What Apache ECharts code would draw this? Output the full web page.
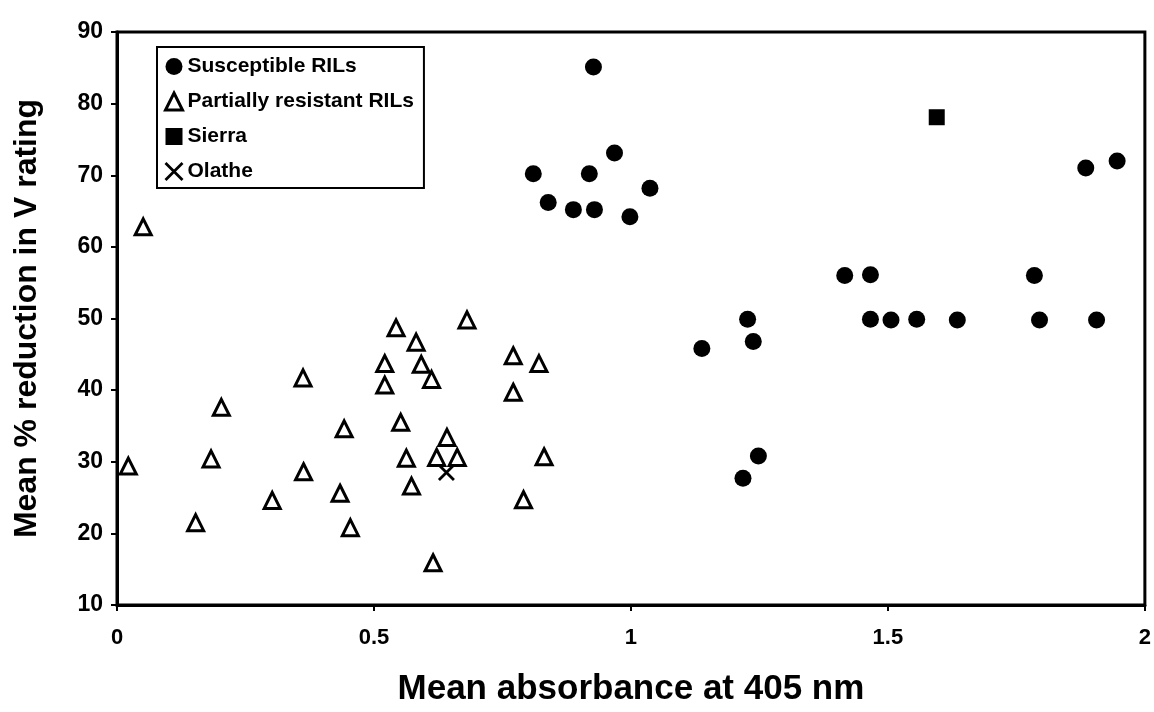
<!DOCTYPE html>
<html>
<head>
<meta charset="utf-8">
<script src="https://cdn.jsdelivr.net/npm/echarts@6/dist/echarts.min.js"></script>
<style>
html,body{margin:0;padding:0;background:#fff;}
#chart{width:1154px;height:712px;}
</style>
</head>
<body>
<div id="chart"></div>
<script>
// Susceptible RILs
const suscX = [0.927, 0.968, 0.810, 0.919, 1.037, 0.839, 0.888, 0.929, 0.998, 1.885, 1.946, 1.416, 1.466, 1.785, 1.227, 1.238, 1.138, 1.248, 1.218, 1.466, 1.506, 1.556, 1.635, 1.795, 1.906];
const suscY = [85.1, 73.1, 70.2, 70.2, 68.2, 66.2, 65.2, 65.2, 64.2, 71.0, 72.0, 56.0, 56.1, 56.0, 49.9, 46.8, 45.8, 30.8, 27.7, 49.9, 49.8, 49.9, 49.8, 49.8, 49.8];
// Partially resistant RILs
const partX = [0.022, 0.051, 0.183, 0.203, 0.153, 0.302, 0.362, 0.363, 0.442, 0.434, 0.454, 0.543, 0.582, 0.521, 0.592, 0.612, 0.521, 0.552, 0.642, 0.563, 0.622, 0.662, 0.573, 0.615, 0.681, 0.771, 0.821, 0.771, 0.831, 0.791];
const partY = [29.4, 62.8, 30.4, 37.6, 21.5, 24.6, 41.7, 28.6, 34.6, 25.6, 20.8, 48.7, 46.7, 43.7, 43.6, 41.5, 40.7, 35.5, 33.4, 30.5, 30.6, 30.6, 26.6, 15.9, 49.8, 44.8, 43.7, 39.7, 30.7, 24.7];
// Parents
const sierraX = [1.595];
const sierraY = [78.1];
const olatheX = [0.641];
const olatheY = [28.5];

const seriesNames = ['Susceptible RILs', 'Partially resistant RILs', 'Sierra', 'Olathe'];
const xTicks = {min: 0, max: 2, interval: 0.5};
const yTicks = {min: 10, max: 90, interval: 10};
const xTitle = 'Mean absorbance at 405 nm';
const yTitle = 'Mean % reduction in V rating';

const zip = (xs, ys) => xs.map((x, i) => [x, ys[i]]);
const FONT = '"Liberation Sans", Arial, sans-serif';

const styles = [
  {color: '#000', opacity: 1},
  {color: '#fff', borderColor: '#000', borderWidth: 3, opacity: 1},
  {color: '#000', opacity: 1},
  {color: 'rgba(0,0,0,0)', borderColor: '#000', borderWidth: 2.8, opacity: 1}
];
const XPATH = 'path://M0,0L20,20M20,0L0,20';

const chart = echarts.init(document.getElementById('chart'), null, {renderer: 'canvas'});
chart.setOption({
  animation: false,
  backgroundColor: '#fff',
  grid: {left: 117, right: 8, top: 32, bottom: 104, show: true, borderColor: '#000', borderWidth: 3, backgroundColor: 'transparent'},
  legend: {
    orient: 'vertical', left: 157, top: 47,
    data: [
      {name: seriesNames[0], icon: 'circle', itemStyle: styles[0]},
      {name: seriesNames[1], icon: 'triangle', itemStyle: styles[1]},
      {name: seriesNames[2], icon: 'rect', itemStyle: styles[2]},
      {name: seriesNames[3], icon: XPATH, itemStyle: styles[3]}
    ],
    backgroundColor: '#fff',
    borderColor: '#000', borderWidth: 2, borderRadius: 0,
    padding: [9, 10, 6, 7],
    itemGap: 14, itemWidth: 17, itemHeight: 17,
    textStyle: {fontFamily: FONT, fontWeight: 'bold', fontSize: 21, color: '#000'}
  },
  xAxis: {
    type: 'value', min: xTicks.min, max: xTicks.max, interval: xTicks.interval,
    name: xTitle, nameLocation: 'middle', nameGap: 67,
    nameTextStyle: {fontFamily: FONT, fontWeight: 'bold', fontSize: 35, color: '#000'},
    axisLine: {show: true, onZero: false, lineStyle: {color: '#000', width: 3}},
    axisTick: {show: true, inside: false, length: 6, lineStyle: {color: '#000', width: 2}},
    axisLabel: {fontFamily: FONT, fontWeight: 'bold', fontSize: 22, color: '#000', margin: 22},
    splitLine: {show: false}
  },
  yAxis: {
    type: 'value', min: yTicks.min, max: yTicks.max, interval: yTicks.interval,
    name: yTitle, nameLocation: 'middle', nameGap: 74,
    nameTextStyle: {fontFamily: FONT, fontWeight: 'bold', fontSize: 32, color: '#000'},
    axisLine: {show: true, onZero: false, lineStyle: {color: '#000', width: 3}},
    axisTick: {show: true, inside: false, length: 6, lineStyle: {color: '#000', width: 2}},
    axisLabel: {fontFamily: FONT, fontWeight: 'bold', fontSize: 23, color: '#000', margin: 14},
    splitLine: {show: false}
  },
  series: [
    {name: seriesNames[0], type: 'scatter', data: zip(suscX, suscY), symbol: 'circle', symbolSize: 17,
     itemStyle: styles[0]},
    {name: seriesNames[1], type: 'scatter', data: zip(partX, partY), symbol: 'triangle', symbolSize: 16,
     itemStyle: styles[1]},
    {name: seriesNames[2], type: 'scatter', data: zip(sierraX, sierraY), symbol: 'rect', symbolSize: 16,
     itemStyle: styles[2]},
    {name: seriesNames[3], type: 'scatter', data: zip(olatheX, olatheY), symbol: XPATH, symbolSize: 15, symbolKeepAspect: true,
     itemStyle: styles[3]}
  ]
});
</script>
</body>
</html>
